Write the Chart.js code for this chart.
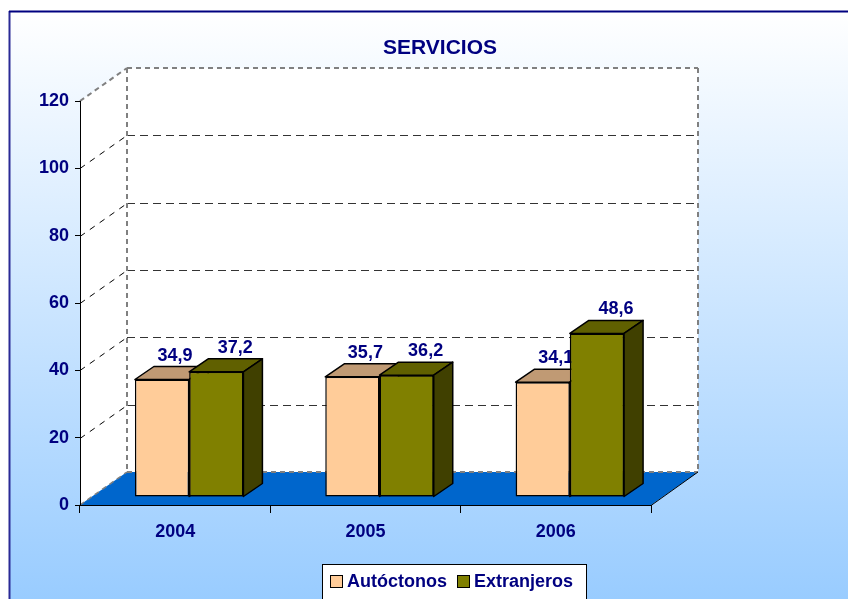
<!DOCTYPE html>
<html>
<head>
<meta charset="utf-8">
<script src="https://cdn.jsdelivr.net/npm/chart.js@4.4.1/dist/chart.umd.min.js"></script>
<style>
  html, body { margin: 0; padding: 0; background: #fff; }
  canvas { display: block; }
</style>
</head>
<body>
<canvas id="chart" width="848" height="599"></canvas>
<script>
// data
const categories = ["2004", "2005", "2006"];
const autoctonos = [34.9, 35.7, 34.1];
const extranjeros = [37.2, 36.2, 48.6];
const yMax = 120;
const yStep = 20;

const NAVY = "#000080";
const FONT = "'Liberation Sans', Arial, sans-serif";

// 3d look: depth of the walls, position of the bars and depth of a bar
const WALL_DX = 47, WALL_DY = -33;
const BAR_DX = 14, BAR_DY = -8;
const TOP_DX = 19, TOP_DY = -13;

const faceColors = [
  { top: "#C09A74", side: "#A07A54", labelDx: 13 },
  { top: "#606000", side: "#404000", labelDx: 19 },
];

const fmt = (v) => v.toFixed(1).replace(".", ",");

const poly = (ctx, pts, fill, stroke, lw) => {
  ctx.beginPath();
  ctx.moveTo(pts[0][0], pts[0][1]);
  for (let i = 1; i < pts.length; i++) ctx.lineTo(pts[i][0], pts[i][1]);
  ctx.closePath();
  if (fill) {
    ctx.fillStyle = fill;
    ctx.fill();
  }
  if (stroke) {
    ctx.strokeStyle = stroke;
    ctx.lineWidth = lw || 1;
    ctx.stroke();
  }
};

const line = (ctx, x1, y1, x2, y2, color, lw, dash) => {
  ctx.beginPath();
  ctx.setLineDash(dash || []);
  ctx.strokeStyle = color;
  ctx.lineWidth = lw;
  ctx.moveTo(x1, y1);
  ctx.lineTo(x2, y2);
  ctx.stroke();
  ctx.setLineDash([]);
};

// top + side face of every bar of one dataset, then its value labels
const drawFaces = (chart, index) => {
  const ctx = chart.ctx;
  const c = faceColors[index];
  const values = chart.data.datasets[index].data;
  chart.getDatasetMeta(index).data.forEach((el, i) => {
    const p = el.getProps(["x", "y", "base", "width"], true);
    const l = p.x - p.width / 2, r = p.x + p.width / 2;
    ctx.lineJoin = "round";
    poly(ctx, [[l, p.y], [r, p.y], [r + TOP_DX, p.y + TOP_DY], [l + TOP_DX, p.y + TOP_DY]], c.top, "#000", 1.5);
    poly(ctx, [[r, p.y], [r + TOP_DX, p.y + TOP_DY], [r + TOP_DX, p.base + TOP_DY], [r, p.base]], c.side, "#000", 1.5);
    ctx.fillStyle = NAVY;
    ctx.font = "bold 18px " + FONT;
    ctx.textAlign = "center";
    ctx.textBaseline = "alphabetic";
    ctx.fillText(fmt(values[i]), p.x + c.labelDx, p.y + TOP_DY - 6);
  });
};

const box3d = {
  id: "box3d",
  beforeDraw(chart) {
    const ctx = chart.ctx;
    const w = chart.width, h = chart.height;
    ctx.save();
    ctx.fillStyle = "#fff";
    ctx.fillRect(0, 0, w, h);
    // chart area background
    const grad = ctx.createLinearGradient(0, 11, 0, h);
    grad.addColorStop(0, "#FFFFFF");
    grad.addColorStop(1, "#99CCFF");
    ctx.fillStyle = grad;
    ctx.fillRect(9, 11, w, h);
    line(ctx, 9.5, 11, 9.5, h, "#2a2a96", 2);
    line(ctx, 9, 11.5, w, 11.5, "#000080", 2);

    const area = chart.chartArea;
    const y = chart.scales.y;
    const L = area.left, R = area.right;
    const T = y.getPixelForValue(yMax), B = y.getPixelForValue(0);

    // walls
    poly(ctx, [[L + WALL_DX, T + WALL_DY], [R + WALL_DX, T + WALL_DY], [R + WALL_DX, B + WALL_DY], [L + WALL_DX, B + WALL_DY]], "#fff");
    poly(ctx, [[L, T], [L + WALL_DX, T + WALL_DY], [L + WALL_DX, B + WALL_DY], [L, B]], "#fff");
    // floor
    poly(ctx, [[L, B], [R, B], [R + WALL_DX, B + WALL_DY], [L + WALL_DX, B + WALL_DY]], "#0066CC");

    // gridlines on back and side wall
    for (let v = yStep; v < yMax; v += yStep) {
      const py = Math.round(y.getPixelForValue(v)) + 0.5;
      line(ctx, L + WALL_DX, py + WALL_DY, R + WALL_DX, py + WALL_DY, "#333", 1, [8, 5]);
      line(ctx, L, py, L + WALL_DX, py + WALL_DY, "#000", 1, [6, 6]);
    }

    // wall edges
    const g = "#808080";
    const dash = [5, 4];
    line(ctx, L + WALL_DX, T + WALL_DY, R + WALL_DX, T + WALL_DY, g, 2, dash);
    line(ctx, L + WALL_DX, T + WALL_DY, L + WALL_DX, B + WALL_DY, g, 2, dash);
    line(ctx, R + WALL_DX, T + WALL_DY, R + WALL_DX, B + WALL_DY, g, 2, dash);
    line(ctx, L, T, L + WALL_DX, T + WALL_DY, g, 2, dash);
    line(ctx, L + WALL_DX, B + WALL_DY, R + WALL_DX, B + WALL_DY, g, 2, dash);
    line(ctx, L, B, L + WALL_DX, B + WALL_DY, g, 1.5, dash);
    line(ctx, R, B + 0.5, R + WALL_DX, B + WALL_DY, "#000", 1);

    // title
    ctx.fillStyle = NAVY;
    ctx.font = "bold 21px " + FONT;
    ctx.textAlign = "center";
    ctx.textBaseline = "middle";
    ctx.fillText("SERVICIOS", 440, 48);
    ctx.restore();
  },
  // chart.js draws the last dataset first; draw olive fronts again after
  // the peach bars so the olive ones stand in front of the peach sides
  beforeDatasetsDraw(chart) {
    chart.ctx.save();
    chart.ctx.translate(BAR_DX, BAR_DY);
  },
  afterDatasetsDraw(chart) {
    const ctx = chart.ctx;
    drawFaces(chart, 0);
    chart.getDatasetMeta(1).data.forEach((el) => el.draw(ctx));
    drawFaces(chart, 1);
    ctx.restore();
  },
  afterDraw(chart) {
    const ctx = chart.ctx;
    ctx.save();
    // legend
    ctx.fillStyle = "#fff";
    ctx.fillRect(322, 564, 264, 40);
    ctx.strokeStyle = "#000";
    ctx.lineWidth = 1;
    ctx.strokeRect(322.5, 564.5, 264, 40);
    const items = [
      { x: 330, color: "#FFCC99", text: chart.data.datasets[0].label },
      { x: 457, color: "#808000", text: chart.data.datasets[1].label },
    ];
    ctx.font = "bold 18px " + FONT;
    ctx.textAlign = "left";
    ctx.textBaseline = "middle";
    items.forEach((it) => {
      ctx.fillStyle = it.color;
      ctx.fillRect(it.x, 575, 13, 13);
      ctx.strokeRect(it.x + 0.5, 575.5, 12, 12);
      ctx.fillStyle = NAVY;
      ctx.fillText(it.text, it.x + 17, 582);
    });
    ctx.restore();
  },
};

const config = {
  type: "bar",
  data: {
    labels: categories,
    datasets: [
      {
        label: "Autóctonos",
        data: autoctonos,
        backgroundColor: "#FFCC99",
        borderColor: "#000",
        borderWidth: 1.5,
        borderSkipped: false,
        clip: false,
      },
      {
        label: "Extranjeros",
        data: extranjeros,
        backgroundColor: "#808000",
        borderColor: "#000",
        borderWidth: 1.5,
        borderSkipped: false,
        clip: false,
      },
    ],
  },
  options: {
    responsive: false,
    animation: false,
    layout: { padding: { top: 101, right: 197, left: 0, bottom: 0 } },
    datasets: { bar: { categoryPercentage: 0.57, barPercentage: 1.0 } },
    plugins: {
      legend: { display: false },
      title: { display: false },
      tooltip: { enabled: false },
    },
    scales: {
      y: {
        min: 0,
        max: yMax,
        ticks: { stepSize: yStep, color: NAVY, font: { weight: "bold", size: 18 }, padding: 6 },
        grid: { drawOnChartArea: false, tickLength: 5, color: "#000" },
        border: { color: "#000", width: 1 },
        afterFit: (s) => { s.width = 80; },
      },
      x: {
        ticks: { color: NAVY, font: { weight: "bold", size: 18 }, padding: 8 },
        grid: { drawOnChartArea: false, tickLength: 8, color: "#000", offset: true },
        border: { color: "#000", width: 1 },
        afterFit: (s) => { s.height = 94; },
      },
    },
  },
  plugins: [box3d],
};

Chart.defaults.font.family = FONT;
const myChart = new Chart(document.getElementById("chart"), config);
</script>
</body>
</html>
